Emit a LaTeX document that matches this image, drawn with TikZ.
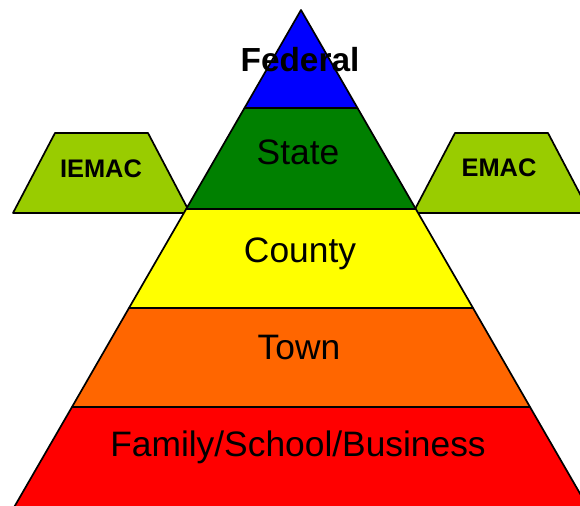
\documentclass[tikz,border=0pt]{standalone}
\usepackage{fontspec}
\setmainfont{Liberation Sans}
\definecolor{fedblue}{RGB}{0,0,255}
\definecolor{stategreen}{RGB}{0,128,0}
\definecolor{countyyellow}{RGB}{255,255,0}
\definecolor{townorange}{RGB}{255,102,0}
\definecolor{familyred}{RGB}{255,0,0}
\definecolor{compactgreen}{RGB}{153,204,0}

\tikzset{
  band/.style = {draw = black, line width = 1.7bp, line join = round},
  level/.style = {anchor = base, inner sep = 0pt, font = \fontsize{35.5}{36}\selectfont},
  compact/.style = {anchor = base, inner sep = 0pt, font = \fontsize{25.5}{26}\selectfont\bfseries}
}

\begin{document}
\begin{tikzpicture}[x = 1bp, y = -1bp]
            \useasboundingbox (0,0) rectangle (580,506);
            \clip (0,0) rectangle (580,506);

            % side compacts
            \draw [band, fill = compactgreen]
            (55,133) -- (148,133) -- (190,213) -- (13,213) -- cycle;
            \draw [band, fill = compactgreen]
            (455,133) -- (548,133) -- (590,213) -- (413,213) -- cycle;

            % pyramid levels
            \draw [band, fill = fedblue]
            (301,10) -- (357.5,108) -- (244.5,108) -- cycle;
            \draw [band, fill = stategreen]
            (244.5,108) -- (357.5,108) -- (415.8,209) -- (186.2,209) -- cycle;
            \draw [band, fill = countyyellow]
            (186.2,209) -- (415.8,209) -- (473,308) -- (129,308) -- cycle;
            \draw [band, fill = townorange]
            (129,308) -- (473,308) -- (530,407) -- (72,407) -- cycle;
            \draw [band, fill = familyred]
            (72,407) -- (530,407) -- (595.3,520) -- (6.7,520) -- cycle;

            % labels
            \node [level, font = \fontsize{33.5}{34}\selectfont\bfseries] (federal) at (300,72) {Federal};
            \node [level] (state) at (298,165) {State};
            \node [level] (county) at (300,262) {County};
            \node [level] (town) at (299,359) {Town};
            \node [level] (family) at (298,456) {Family/School/Business};
            \node [compact] (iemac) at (101,178) {IEMAC};
            \node [compact] (emac) at (499,177) {EMAC};
        \end{tikzpicture}
\end{document}
